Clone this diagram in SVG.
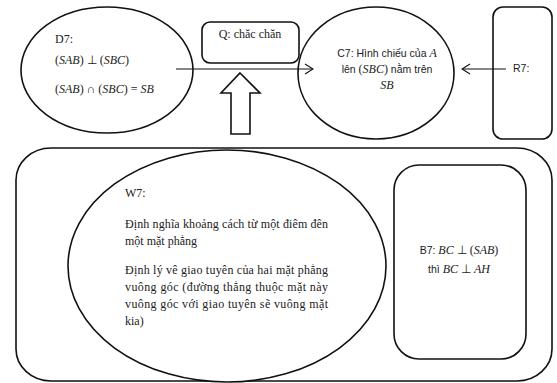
<svg xmlns="http://www.w3.org/2000/svg" width="557" height="383" viewBox="0 0 557 383">
  <style>
    .shape { fill: #ffffff; stroke: #111111; stroke-width: 1.6; }
    .conn { fill: none; stroke: #111111; stroke-width: 1.1; }
    .serif { font-family: "Liberation Serif", "Times New Roman", serif; font-size: 12px; fill: #222222; }
    .sans { font-family: "Liberation Sans", Arial, sans-serif; font-size: 10.5px; fill: #222222; }
    .m { font-family: "Liberation Serif", "Times New Roman", serif; font-style: italic; }
    .mu { font-family: "Liberation Serif", "Times New Roman", serif; font-style: normal; }
  </style>
  <defs>
    <marker id="chev" markerWidth="10" markerHeight="12" refX="9" refY="6" orient="auto" markerUnits="userSpaceOnUse">
      <path d="M1,1 L9,6 L1,11" fill="none" stroke="#111111" stroke-width="1.1"/>
    </marker>
  </defs>

  <rect width="557" height="383" fill="#ffffff"/>

  <!-- large container -->
  <g id="container">
    <rect class="shape" x="16" y="148" width="536" height="233" rx="35" ry="32"/>
  </g>

  <!-- D7 -->
  <g id="D7">
    <ellipse class="shape" cx="107" cy="70" rx="86" ry="63"/>
    <text class="serif" x="55" y="43" font-size="12.5">D7:</text>
    <text class="serif" x="55" y="64" font-size="12.5"><tspan class="mu">(</tspan><tspan class="m">SAB</tspan><tspan class="mu">)</tspan> ⊥ <tspan class="mu">(</tspan><tspan class="m">SBC</tspan><tspan class="mu">)</tspan></text>
    <text class="serif" x="55" y="93" font-size="12.5"><tspan class="mu">(</tspan><tspan class="m">SAB</tspan><tspan class="mu">)</tspan> ∩ <tspan class="mu">(</tspan><tspan class="m">SBC</tspan><tspan class="mu">)</tspan> = <tspan class="m">SB</tspan></text>
  </g>

  <!-- Q -->
  <g id="Q">
    <rect class="shape" x="202" y="22" width="97" height="41" rx="8"/>
    <text class="serif" x="250" y="38" text-anchor="middle">Q: chăc chăn</text>
  </g>

  <!-- C7 -->
  <g id="C7">
    <ellipse class="shape" cx="376" cy="73" rx="78" ry="66"/>
    <text class="sans" x="387" y="57" text-anchor="middle">C7: Hình chiếu của <tspan class="m" font-size="12">A</tspan></text>
    <text class="sans" x="387" y="73" text-anchor="middle">lên <tspan class="mu" font-size="12">(</tspan><tspan class="m" font-size="12">SBC</tspan><tspan class="mu" font-size="12">)</tspan> nằm trên</text>
    <text class="sans" x="387" y="89" text-anchor="middle"><tspan class="m" font-size="12">SB</tspan></text>
  </g>

  <!-- R7 -->
  <g id="R7">
    <rect class="shape" x="493" y="7" width="59" height="132" rx="10"/>
    <text class="sans" x="513" y="72">R7:</text>
  </g>

  <!-- W7 -->
  <g id="W7">
    <ellipse class="shape" cx="227" cy="266" rx="159" ry="116"/>
    <text class="serif" x="125" y="197">W7:</text>
    <text class="serif" x="125" y="228" textLength="203" lengthAdjust="spacing">Định nghĩa khoảng cách từ một điêm đên</text>
    <text class="serif" x="125" y="245">một mặt phẳng</text>
    <text class="serif" x="125" y="274" textLength="203" lengthAdjust="spacing">Định lý vê giao tuyên của hai mặt phẳng</text>
    <text class="serif" x="125" y="291" textLength="203" lengthAdjust="spacing">vuông góc (đường thẳng thuộc mặt này</text>
    <text class="serif" x="125" y="308" textLength="203" lengthAdjust="spacing">vuông góc với giao tuyên sẽ vuông mặt</text>
    <text class="serif" x="125" y="325">kia)</text>
  </g>

  <!-- B7 -->
  <g id="B7">
    <rect class="shape" x="394" y="165" width="132" height="194" rx="25"/>
    <text class="sans" x="459" y="254" text-anchor="middle">B7: <tspan class="m" font-size="12">BC</tspan><tspan class="mu" font-size="12"> ⊥ (</tspan><tspan class="m" font-size="12">SAB</tspan><tspan class="mu" font-size="12">)</tspan></text>
    <text class="sans" x="459" y="273" text-anchor="middle">thì <tspan class="m" font-size="12">BC</tspan><tspan class="mu" font-size="12"> ⊥ </tspan><tspan class="m" font-size="12">AH</tspan></text>
  </g>

  <!-- connectors -->
  <g id="connectors">
    <line class="conn" x1="176" y1="69" x2="313" y2="69" marker-end="url(#chev)"/>
    <line class="conn" x1="506" y1="69" x2="462" y2="69" marker-end="url(#chev)"/>
    <path class="shape" stroke-width="1.4" d="M240,73 L260,93 L250,93 L250,134 L231,134 L231,93 L221,93 Z"/>
  </g>
</svg>
